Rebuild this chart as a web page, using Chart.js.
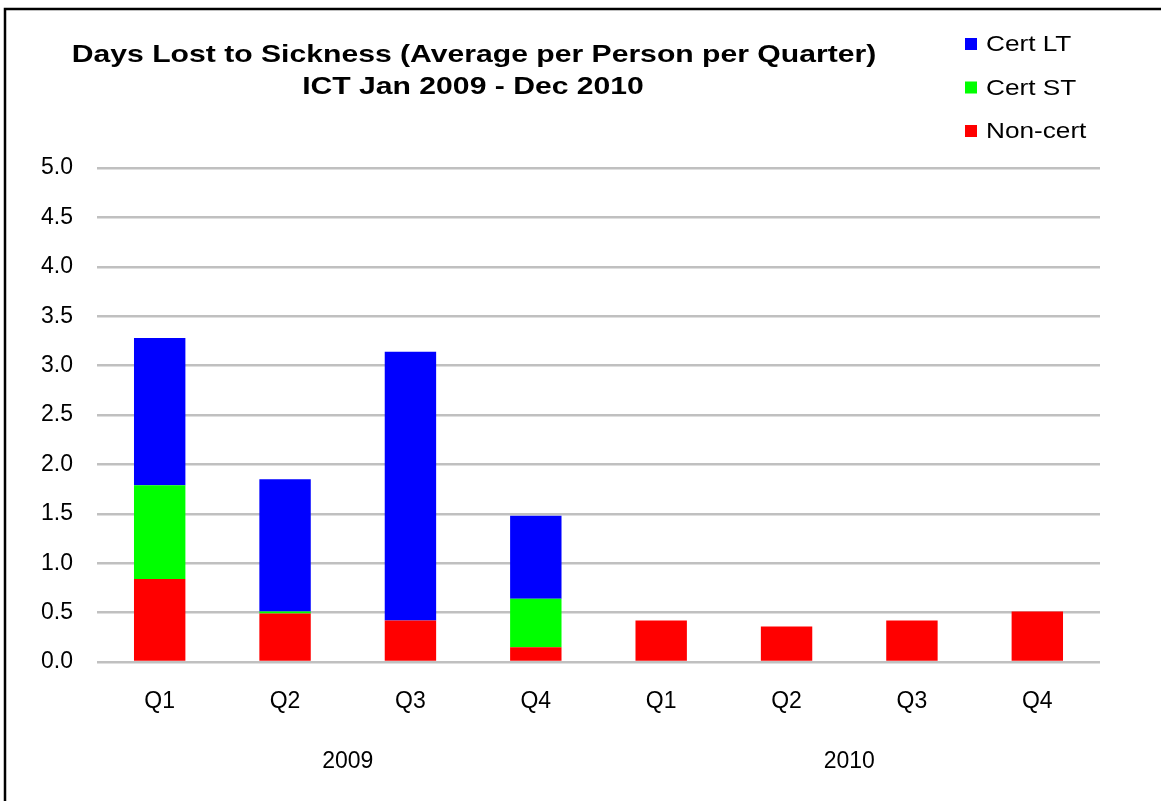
<!DOCTYPE html>
<html>
<head>
<meta charset="utf-8">
<script src="https://cdn.jsdelivr.net/npm/chart.js@4.4.0/dist/chart.umd.min.js"></script>
<style>
  html, body { margin: 0; padding: 0; background: #ffffff; }
  #wrap { width: 1161px; height: 801px; position: relative; }
</style>
</head>
<body>
<div id="wrap"><canvas id="c" width="1161" height="801"></canvas></div>
<script>
// Quarterly sickness absence, ICT, 2009-2010 (days per person)
const quarters = ['Q1', 'Q2', 'Q3', 'Q4', 'Q1', 'Q2', 'Q3', 'Q4'];
const years = ['2009', '2010'];
const nonCert = [0.84, 0.49, 0.42, 0.15, 0.42, 0.36, 0.42, 0.51];
const certST  = [0.95, 0.02, 0.00, 0.49, 0.00, 0.00, 0.00, 0.00];
const certLT  = [1.49, 1.34, 2.72, 0.84, 0.00, 0.00, 0.00, 0.00];
const titleLines = ['Days Lost to Sickness (Average per Person per Quarter)', 'ICT Jan 2009 - Dec 2010'];

const FONT = '"Liberation Sans", Arial, sans-serif';

// draws text with a horizontal stretch, centred or left-anchored at x
function wideText(ctx, text, x, y, stretch, align) {
  ctx.save();
  ctx.translate(x, y);
  ctx.scale(stretch, 1);
  ctx.textAlign = align;
  ctx.fillText(text, 0, 0);
  ctx.restore();
}

// frame, title and legend drawn around the plot
const decorations = {
  id: 'decorations',
  beforeDraw(chart) {
    const ctx = chart.ctx;
    ctx.save();
    ctx.fillStyle = '#ffffff';
    ctx.fillRect(0, 0, chart.width, chart.height);
    ctx.restore();
  },
  afterDraw(chart) {
    const ctx = chart.ctx;
    ctx.save();
    // outer frame (top and left edges visible)
    ctx.strokeStyle = '#000000';
    ctx.lineWidth = 2.5;
    ctx.beginPath();
    ctx.moveTo(5, chart.height + 5);
    ctx.lineTo(5, 9);
    ctx.lineTo(chart.width + 5, 9);
    ctx.stroke();

    // title
    ctx.fillStyle = '#000000';
    ctx.font = 'bold 24.5px ' + FONT;
    ctx.textBaseline = 'middle';
    wideText(ctx, titleLines[0], 474, 55, 1.23, 'center');
    wideText(ctx, titleLines[1], 473, 87, 1.23, 'center');

    // legend, top series first
    const order = [...chart.data.datasets].reverse();
    ctx.font = '22px ' + FONT;
    order.forEach((ds, i) => {
      const y = 44 + i * 43.5;
      ctx.fillStyle = ds.backgroundColor;
      ctx.fillRect(965, y - 6, 12, 12);
      ctx.fillStyle = '#000000';
      wideText(ctx, ds.label, 986, y + 1, 1.19, 'left');
    });
    ctx.restore();
  }
};

new Chart(document.getElementById('c'), {
  type: 'bar',
  data: {
    labels: quarters,
    datasets: [
      { label: 'Non-cert', data: nonCert, backgroundColor: '#ff0000' },
      { label: 'Cert ST',  data: certST,  backgroundColor: '#00ff00' },
      { label: 'Cert LT',  data: certLT,  backgroundColor: '#0000ff' }
    ]
  },
  options: {
    responsive: false,
    animation: false,
    devicePixelRatio: 1,
    layout: { padding: { top: 168, right: 61, bottom: 0, left: 0 } },
    datasets: { bar: { barPercentage: 0.41, categoryPercentage: 1.0, borderWidth: 0 } },
    plugins: { legend: { display: false }, title: { display: false }, tooltip: { enabled: false } },
    scales: {
      x: {
        stacked: true,
        grid: { display: false, drawTicks: false },
        border: { display: false },
        ticks: { color: '#000000', font: { family: FONT, size: 23 }, padding: 26 },
        afterFit(s) { s.height = 70; }
      },
      x2: {
        type: 'category',
        labels: years,
        position: 'bottom',
        offset: true,
        grid: { display: false, drawTicks: false },
        border: { display: false },
        ticks: { color: '#000000', font: { family: FONT, size: 23 }, padding: 16 },
        afterFit(s) { s.height = 69; }
      },
      y: {
        stacked: true,
        min: 0,
        max: 5,
        grid: { color: '#c0c0c0', lineWidth: 2.5, drawTicks: false },
        border: { display: false },
        ticks: {
          stepSize: 0.5,
          color: '#000000',
          font: { family: FONT, size: 23 },
          padding: 24,
          callback: v => Number(v).toFixed(1)
        },
        afterFit(s) { s.width = 97; }
      }
    }
  },
  plugins: [decorations]
});
</script>
</body>
</html>
